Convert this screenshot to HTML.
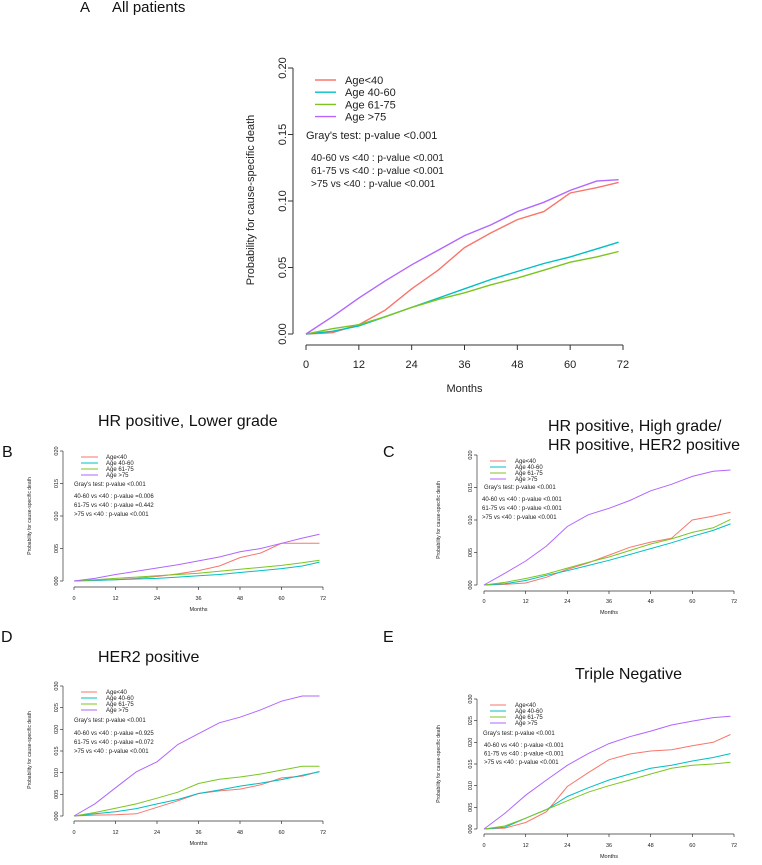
<!DOCTYPE html>
<html><head><meta charset="utf-8"><style>
html,body{margin:0;padding:0;background:#fff;}
svg{display:block;font-family:"Liberation Sans",sans-serif;}
</style></head><body>
<svg id="fig" width="762" height="865" viewBox="0 0 762 865"></svg>
<script>
const months = [0,6,12,18,24,30,36,42,48,54,60,66,71];
const groups = ["Age<40","Age 40-60","Age 61-75","Age >75"];
const colors = ["#f8766d","#00bfc4","#7cc520","#b266ff"];
// Panel A
const aRed = [0,.001,.007,.018,.034,.048,.065,.076,.086,.092,.106,.110,.114];
const aCyan = [0,.002,.006,.013,.020,.027,.034,.041,.047,.053,.058,.064,.069];
const aGreen = [0,.004,.007,.013,.020,.026,.031,.037,.042,.048,.054,.058,.062];
const aPurple = [0,.013,.027,.040,.052,.063,.074,.082,.092,.099,.108,.115,.116];
// Panel B
const bRed = [0,.001,.002,.004,.007,.011,.016,.023,.036,.043,.058,.058,.058];
const bCyan = [0,.001,.002,.003,.004,.006,.008,.010,.013,.016,.019,.023,.029];
const bGreen = [0,.002,.004,.006,.008,.010,.012,.015,.018,.021,.024,.028,.032];
const bPurple = [0,.004,.010,.015,.020,.025,.031,.037,.045,.050,.058,.066,.072];
// Panel C
const cRed = [0,.001,.003,.012,.024,.034,.046,.058,.066,.072,.100,.106,.112];
const cCyan = [0,.002,.007,.015,.022,.030,.038,.047,.056,.065,.075,.084,.094];
const cGreen = [0,.004,.010,.017,.026,.035,.043,.053,.063,.071,.081,.088,.101];
const cPurple = [0,.018,.037,.060,.090,.108,.118,.130,.145,.155,.167,.175,.177];
// Panel D
const dRed = [0,.002,.003,.005,.020,.035,.052,.058,.062,.072,.088,.092,.103];
const dCyan = [0,.005,.010,.017,.028,.038,.052,.060,.069,.076,.084,.094,.102];
const dGreen = [0,.008,.018,.028,.041,.055,.075,.085,.090,.097,.106,.115,.115];
const dPurple = [0,.028,.065,.102,.125,.165,.190,.215,.228,.245,.265,.277,.277];
// Panel E
const eRed = [0,.002,.015,.040,.098,.130,.160,.173,.180,.183,.192,.200,.218];
const eCyan = [0,.004,.025,.045,.075,.095,.113,.127,.140,.147,.157,.165,.174];
const eGreen = [0,.007,.025,.045,.065,.085,.100,.113,.127,.140,.147,.150,.154];
const ePurple = [0,.036,.078,.113,.147,.174,.197,.213,.226,.240,.249,.257,.260];
const xTicks = [0,12,24,36,48,60,72];
const yTicksA = ["0.00","0.05","0.10","0.15","0.20"];
const yTicksS = ["000","005","010","015","020"];
const yTicksS3 = ["000","005","010","015","020","025","030"];

const NS="http://www.w3.org/2000/svg";
const svg=document.getElementById('fig');
function mk(tag,attrs,parent,text){const e=document.createElementNS(NS,tag);for(const k in attrs)e.setAttribute(k,attrs[k]);if(text!==undefined)e.textContent=text;(parent||svg).appendChild(e);return e;}

function panel(p){
  const g=mk('g',{});
  
  
  const ymax=p.ymax;
  const xs=v=>p.x0+(v/72)*(p.x1-p.x0);
  const ys=v=>p.y0-(v/ymax)*(p.y0-p.yTop);
  const ya=mk('line',{x1:p.axX,y1:ys(ymax),x2:p.axX,y2:ys(0),stroke:'#333','stroke-width':p.sw},g);
  
  
  const xa=mk('line',{x1:xs(0),y1:p.axY,x2:xs(72),y2:p.axY,stroke:'#333','stroke-width':p.sw},g);
  
  
  p.yLabels.forEach((lab,i)=>{
    const v=ymax*i/(p.yLabels.length-1);
    const y=ys(v);
    mk('line',{x1:p.axX-p.tk,y1:y,x2:p.axX,y2:y,stroke:'#333','stroke-width':p.sw},g);
    const t=mk('text',{x:p.axX-p.tk-2,y:y,transform:`rotate(-90 ${p.axX-p.tk-2} ${y})`,'text-anchor':'middle','font-size':p.tf,fill:'#222'},g,lab);
    
    
  });
  xTicks.forEach(v=>{
    const x=xs(v);
    mk('line',{x1:x,y1:p.axY,x2:x,y2:p.axY+p.tk,stroke:'#333','stroke-width':p.sw},g);
    const t=mk('text',{x:x,y:p.xLabY,'text-anchor':'middle','font-size':p.tf,fill:'#222'},g,String(v));
    
    
  });
  const mt=mk('text',{x:(xs(0)+xs(72))/2,y:p.monY,'text-anchor':'middle','font-size':p.tf,fill:'#222'},g,'Months');
  
  
  const yt=mk('text',{x:p.ytX,y:p.ytY,transform:`rotate(-90 ${p.ytX} ${p.ytY})`,'text-anchor':'middle','font-size':p.ytF,fill:'#222'},g,'Probability for cause-specific death');
  
  
  p.series.forEach((s,i)=>{
    const d=s.map((v,j)=>(j?'L':'M')+xs(months[j]).toFixed(1)+','+ys(v).toFixed(1)).join(' ');
    const path=mk('path',{d:d,fill:'none',stroke:colors[i],'stroke-width':p.lw},g);
    
    
  });
  groups.forEach((gname,i)=>{
    const y=p.legY+i*p.legDy;
    mk('line',{x1:p.legX,y1:y,x2:p.legX+p.legL,y2:y,stroke:colors[i],'stroke-width':p.lw},g);
    const t=mk('text',{x:p.legTX,y:y+p.legF*0.35,'font-size':p.legF,fill:'#222'},g,gname);
    
    
  });
  const gr=mk('text',{x:p.grX,y:p.grY,'font-size':p.legF,fill:'#222'},g,"Gray's test: p-value <0.001");
  
  
  p.stats.forEach((s,i)=>{
    const t=mk('text',{x:p.stX,y:p.stY+i*p.stDy,'font-size':p.stF,fill:'#222','xml:space':'preserve'},g,s);
    
    
  });
}

function label(x,y,txt,size,name){
  const t=mk('text',{x:x,y:y,'font-size':size,fill:'#111'},svg,txt);
  
  
  return t;
}

label(80,12,'A',15,'panel-label-a');
label(112,12,'All patients',15,'panel-title-a');

panel({name:'panel-a',ymax:0.20,x0:306,x1:623,y0:334,yTop:68,axX:293,axY:345,sw:1,tk:5,tf:11,xLabY:368,monY:392,
  ytX:254,ytY:200,ytF:11,lw:1.4,yLabels:yTicksA,series:[aRed,aCyan,aGreen,aPurple],
  legX:315,legL:21,legTX:345,legY:80,legDy:12.2,legF:11,grX:306,grY:139,
  stats:['40-60 vs <40 : p-value <0.001','61-75 vs <40 : p-value <0.001','>75 vs <40     : p-value <0.001'],stX:311,stY:161,stDy:13,stF:10});

label(2,457,'B',16,'panel-label-b');
label(98,426,'HR positive, Lower grade',16,'panel-title-b');
panel({name:'panel-b',ymax:0.20,x0:74,x1:323,y0:581,yTop:451,axX:63,axY:587,sw:0.7,tk:3,tf:5.5,xLabY:600,monY:611,
  ytX:31,ytY:516,ytF:5,lw:1,yLabels:yTicksS,series:[bRed,bCyan,bGreen,bPurple],
  legX:81,legL:17,legTX:106,legY:457,legDy:6,legF:6,grX:74,grY:486,
  stats:['40-60 vs <40 : p-value =0.006','61-75 vs <40 : p-value =0.442','>75 vs <40     : p-value <0.001'],stX:74,stY:498,stDy:9,stF:6});

label(383,457,'C',16,'panel-label-c');
label(548,431,'HR positive, High grade/',16,'panel-title-c-line1');
label(548,450,'HR positive, HER2 positive',16,'panel-title-c-line2');
panel({name:'panel-c',ymax:0.20,x0:484,x1:734,y0:585,yTop:455,axX:477,axY:591,sw:0.7,tk:3,tf:5.5,xLabY:603,monY:614,
  ytX:440,ytY:520,ytF:5,lw:1,yLabels:yTicksS,series:[cRed,cCyan,cGreen,cPurple],
  legX:490,legL:16,legTX:515,legY:461,legDy:6,legF:6,grX:484,grY:489,
  stats:['40-60 vs <40 : p-value <0.001','61-75 vs <40 : p-value <0.001','>75 vs <40     : p-value <0.001'],stX:482,stY:501,stDy:9,stF:6});

label(1,642,'D',16,'panel-label-d');
label(98,662,'HER2 positive',16,'panel-title-d');
panel({name:'panel-d',ymax:0.30,x0:74,x1:323,y0:816,yTop:686,axX:63,axY:821,sw:0.7,tk:3,tf:5.5,xLabY:834,monY:845,
  ytX:31,ytY:750,ytF:5,lw:1,yLabels:yTicksS3,series:[dRed,dCyan,dGreen,dPurple],
  legX:81,legL:16,legTX:106,legY:692,legDy:6,legF:6,grX:74,grY:722,
  stats:['40-60 vs <40 : p-value =0.925','61-75 vs <40 : p-value =0.072','>75 vs <40     : p-value <0.001'],stX:74,stY:735,stDy:9,stF:6});

label(383,642,'E',16,'panel-label-e');
label(575,679,'Triple Negative',16,'panel-title-e');
panel({name:'panel-e',ymax:0.30,x0:484,x1:734,y0:829,yTop:699,axX:477,axY:834,sw:0.7,tk:3,tf:5.5,xLabY:847,monY:858,
  ytX:440,ytY:764,ytF:5,lw:1,yLabels:yTicksS3,series:[eRed,eCyan,eGreen,ePurple],
  legX:490,legL:16,legTX:515,legY:705,legDy:6,legF:6,grX:483,grY:735,
  stats:['40-60 vs <40 : p-value <0.001','61-75 vs <40 : p-value <0.001','>75 vs <40     : p-value <0.001'],stX:484,stY:747,stDy:8.5,stF:6});
</script>
</body></html>
